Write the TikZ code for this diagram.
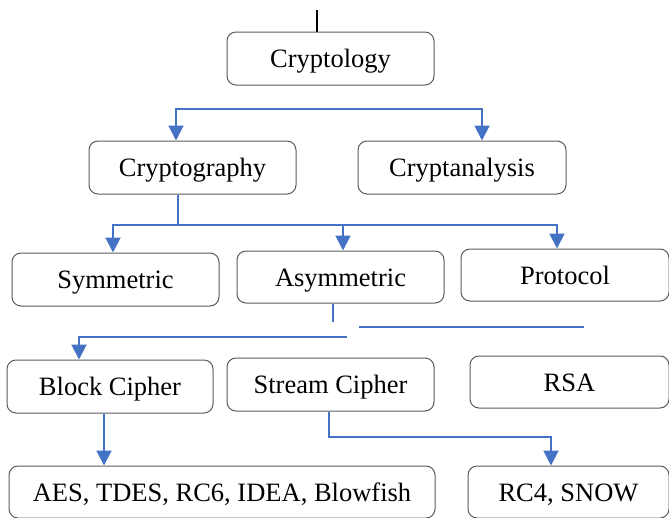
\documentclass[tikz,border=0pt]{standalone}
\usepackage{fontspec}
\setmainfont{Liberation Serif}
\usetikzlibrary{arrows.meta}
\definecolor{linkblue}{RGB}{68,114,196}
\definecolor{boxgray}{RGB}{90,90,90}
\tikzset{
  box/.style={draw=boxgray, line width=1pt, rounded corners=9pt,
    minimum width=207pt, minimum height=53pt, inner sep=0pt,
    text height=18.5pt, text depth=0pt,
    font=\fontsize{26.5}{31}\selectfont, text=black},
  link/.style={draw=linkblue, line width=2pt},
  tip/.style={-{Triangle[width=15pt,length=15pt]}},
  bothtips/.style={{Triangle[width=15pt,length=15pt]}-{Triangle[width=15pt,length=15pt]}}
}
\begin{document}
\begin{tikzpicture}[x=1pt,y=-1pt]
\useasboundingbox (0,0) rectangle (669,517);
\clip (0,0) rectangle (669,517);

% boxes
\node[box] (cryptology)    at (330.5,58.5) {Cryptology};
\node[box] (cryptography)  at (192.5,167.5) {Cryptography};
\node[box, minimum width=208pt] (cryptanalysis) at (462,167.5) {Cryptanalysis};
\node[box] (symmetric)     at (115.5,279.5) {Symmetric};
\node[box, minimum height=52pt] (asymmetric) at (340.5,277) {Asymmetric};
\node[box, minimum width=208pt, minimum height=52pt] (protocol) at (565,275) {Protocol};
\node[box, minimum width=206pt] (block)  at (110,386.5) {Block Cipher};
\node[box] (stream) at (330.5,384.5) {Stream Cipher};
\node[box, minimum width=199pt, minimum height=52pt] (rsa) at (569.5,382) {RSA};
\node[box, minimum width=426pt, minimum height=52pt] (aes) at (222,492) {AES, TDES, RC6, IDEA, Blowfish};
\node[box, minimum width=201pt, minimum height=52pt] (rc4) at (568.5,492) {RC4, SNOW};

% stub above the root
\coordinate (top) at (317,10);
\draw[line width=2pt, black] (top) -- (top |- cryptology.north);

% level 1 split
\coordinate (s1) at (176,109);
\coordinate (s2) at (482,109);
\draw[link, bothtips] (s1 |- cryptography.north) -- (s1) -- (s2) -- (s2 |- cryptanalysis.north);

% cryptography branches
\coordinate (c1) at (178,225);
\draw[link] (c1 |- cryptography.south) -- (c1);
\coordinate (b1) at (113,225);
\coordinate (b2) at (343,225);
\coordinate (b3) at (557,225);
\draw[link, bothtips] (b1 |- symmetric.north) -- (b1) -- (b3) -- (b3 |- protocol.north);
\draw[link, tip] (b2) -- (b2 |- asymmetric.north);

% below asymmetric
\coordinate (a1) at (333,322);
\draw[link] (a1 |- asymmetric.south) -- (a1);
\coordinate (a2) at (359,327);
\coordinate (a3) at (584,327);
\draw[link] (a2) -- (a3);
\coordinate (a4) at (347,337);
\coordinate (a5) at (79,337);
\draw[link, tip] (a4) -- (a5) -- (a5 |- block.north);

% cipher examples
\coordinate (k1) at (104,440);
\draw[link, tip] (k1 |- block.south) -- (k1 |- aes.north);
\coordinate (t1) at (329,437);
\coordinate (t2) at (551,437);
\draw[link, tip] (t1 |- stream.south) -- (t1) -- (t2) -- (t2 |- rc4.north);
\end{tikzpicture}
\end{document}
